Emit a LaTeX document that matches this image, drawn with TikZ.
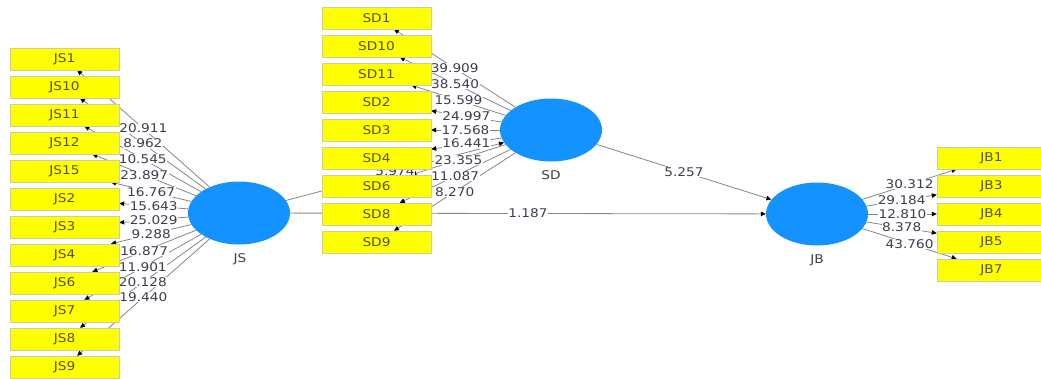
\documentclass[tikz,border=0pt]{standalone}
\usepackage{fontspec}
\setmainfont{DejaVu Sans}[FakeStretch=1.14]
\usetikzlibrary{arrows.meta,shapes.geometric}
\pgfdeclarelayer{edges}
\pgfdeclarelayer{labels}
\pgfsetlayers{edges,labels,main}
\definecolor{boxyellow}{RGB}{255,255,0}
\definecolor{boxborder}{RGB}{205,205,160}
\definecolor{boxtext}{RGB}{85,80,20}
\definecolor{lvblue}{RGB}{20,146,255}
\definecolor{linegray}{RGB}{135,135,135}
\definecolor{lbltext}{RGB}{60,62,80}
\begin{document}
\begin{tikzpicture}[x=1pt,y=-1pt,
  ind/.style={rectangle, fill=boxyellow, draw=boxborder, line width=0.4pt,
    minimum width=109pt, minimum height=22pt, inner sep=0pt,
    font=\fontsize{12}{12}\selectfont, text=boxtext},
  lv/.style={ellipse, fill=lvblue, minimum width=102pt, minimum height=63pt, inner sep=0pt},
  lvname/.style={font=\fontsize{12}{12}\selectfont, text=lbltext},
  link/.style={draw=linegray, line width=0.8pt,
    -{Triangle[length=5pt,width=4.5pt,color=black]}},
  wt/.style={fill=white, inner sep=0.5pt, text=lbltext,
    font=\fontsize{12}{12}\selectfont}]
\useasboundingbox (0,0) rectangle (1041,378);
\clip (0,0) rectangle (1041,378);
% latent variables
\node[lv] (JS) at (239,213) {};
\node[lv] (SD) at (551,130) {};
\node[lv] (JB) at (817,214) {};
\node[lvname] (JSn) at (240,259) {JS};
\node[lvname] (SDn) at (551,175) {SD};
\node[lvname] (JBn) at (817,260) {JB};
% indicators
\foreach \n [count=\i from 0] in {JS1,JS10,JS11,JS12,JS15,JS2,JS3,JS4,JS6,JS7,JS8,JS9}
  \node[ind] (\n) at (64.5,{59+28*\i}) {\n};
\foreach \n [count=\i from 0] in {SD1,SD10,SD11,SD2,SD3,SD4,SD6,SD8,SD9}
  \node[ind] (\n) at (376.5,{18+28*\i}) {\n};
\foreach \n [count=\i from 0] in {JB1,JB3,JB4,JB5,JB7}
  \node[ind] (\n) at (991.5,{158+28*\i}) {\n};
% connectors
\begin{pgfonlayer}{edges}
\foreach \n in {JS1,JS10,JS11,JS12,JS15,JS2,JS3,JS4,JS6,JS7,JS8,JS9}
  \draw[link] (JS) -- (\n);
\foreach \n in {SD1,SD10,SD11,SD2,SD3,SD4,SD6,SD8,SD9}
  \draw[link] (SD) -- (\n);
\foreach \n in {JB1,JB3,JB4,JB5,JB7}
  \draw[link] (JB) -- (\n);
\draw[link] (JS) -- (SD);
\draw[link] (JS) -- (JB);
\draw[link] (SD) -- (JB);
\end{pgfonlayer}
% weights
\begin{pgfonlayer}{labels}
\foreach \n/\w in {JS1/20.911,JS10/8.962,JS11/10.545,JS12/23.897,JS15/16.767,JS2/15.643,JS3/25.029,JS4/9.288,JS6/16.877,JS7/11.901,JS8/20.128,JS9/19.440}
  \path (JS) -- node[wt] {\w} (\n);
\foreach \n/\w in {SD1/39.909,SD10/38.540,SD11/15.599,SD2/24.997,SD3/17.568,SD4/16.441,SD6/23.355,SD8/11.087,SD9/8.270}
  \path (SD) -- node[wt] {\w} (\n);
\foreach \n/\w in {JB1/30.312,JB3/29.184,JB4/12.810,JB5/8.378,JB7/43.760}
  \path (JB) -- node[wt] {\w} (\n);
\path (JS) -- node[wt] {5.974} (SD);
\path (JS) -- node[wt] {1.187} (JB);
\path (SD) -- node[wt] {5.257} (JB);
\end{pgfonlayer}
\end{tikzpicture}
\end{document}
